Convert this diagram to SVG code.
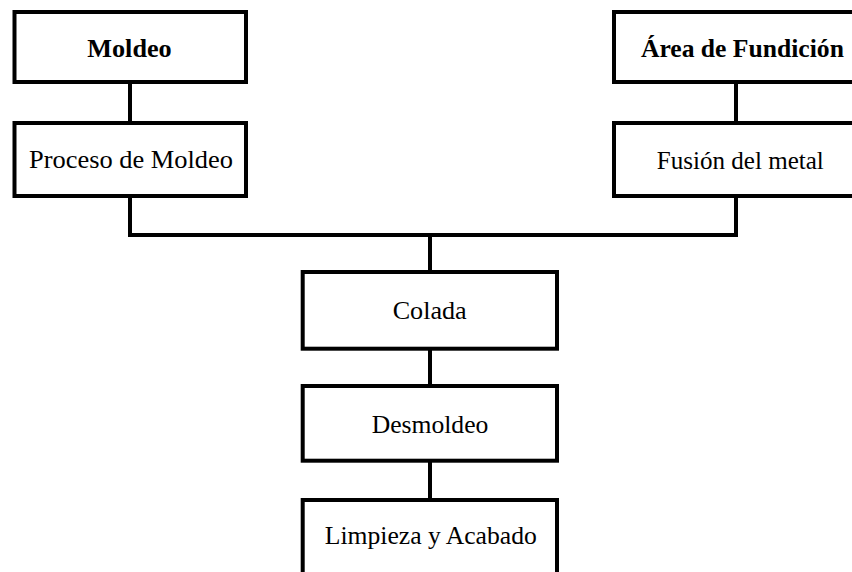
<svg xmlns="http://www.w3.org/2000/svg" width="852" height="572" viewBox="0 0 852 572">
<style>
rect.box{fill:#fff;stroke:#000;stroke-width:4}
.c{fill:none;stroke:#000;stroke-width:4}
text{font-family:"Liberation Serif","Times New Roman",serif;font-size:26px;fill:#000;text-anchor:middle}
text.b{font-weight:bold}
</style>
<rect width="852" height="572" fill="#fff"/>
<g id="connectors">
<line class="c" x1="130" y1="82" x2="130" y2="123"/>
<line class="c" x1="736" y1="82" x2="736" y2="123"/>
<polyline class="c" points="130,196 130,235 736,235 736,196"/>
<line class="c" x1="430" y1="235" x2="430" y2="272"/>
<line class="c" x1="430" y1="349" x2="430" y2="386"/>
<line class="c" x1="430" y1="461" x2="430" y2="500"/>
</g>
<g id="moldeo">
<rect class="box" x="14.5" y="12" width="231.5" height="70"/>
<text class="b" x="129.5" y="57.3" textLength="84.4" lengthAdjust="spacingAndGlyphs">Moldeo</text>
</g>
<g id="area">
<rect class="box" x="614" y="12" width="254" height="70"/>
<text class="b" x="742.4" y="57.3" textLength="203" lengthAdjust="spacingAndGlyphs">Área de Fundición</text>
</g>
<g id="proceso">
<rect class="box" x="14.5" y="123" width="231.5" height="73"/>
<text x="131" y="168.3" textLength="204" lengthAdjust="spacingAndGlyphs">Proceso de Moldeo</text>
</g>
<g id="fusion">
<rect class="box" x="614" y="123" width="254" height="73"/>
<text x="740.3" y="169.3" textLength="167" lengthAdjust="spacingAndGlyphs">Fusión del metal</text>
</g>
<g id="colada">
<rect class="box" x="302.7" y="272" width="254.3" height="76.7"/>
<text x="429.7" y="319.3" textLength="74" lengthAdjust="spacingAndGlyphs">Colada</text>
</g>
<g id="desmoldeo">
<rect class="box" x="302.7" y="386" width="254.3" height="74.7"/>
<text x="430" y="433.3" textLength="116.7" lengthAdjust="spacingAndGlyphs">Desmoldeo</text>
</g>
<g id="limpieza">
<rect class="box" x="302.7" y="500" width="254.3" height="90"/>
<text x="430.8" y="544.3" textLength="212" lengthAdjust="spacingAndGlyphs">Limpieza y Acabado</text>
</g>
</svg>
